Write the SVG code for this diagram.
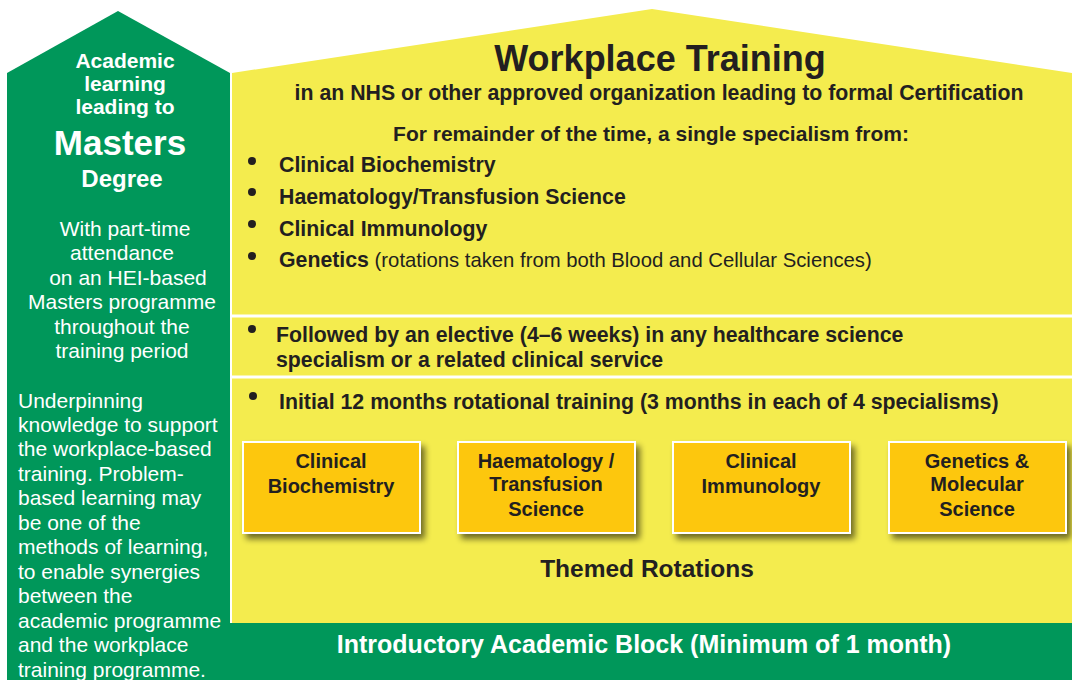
<svg xmlns="http://www.w3.org/2000/svg" width="1072" height="680" viewBox="0 0 1072 680">
<defs>
<style>
.w{fill:#ffffff;font-family:"Liberation Sans",Arial,sans-serif}
.d{fill:#231f20;font-family:"Liberation Sans",Arial,sans-serif}
.b{font-weight:bold}
.c{text-anchor:middle}
.box{fill:#fdc70e;stroke:#ffffff;stroke-width:2}
</style>
<filter id="sh" x="-10%" y="-10%" width="130%" height="140%">
<feGaussianBlur in="SourceAlpha" stdDeviation="3"/>
<feOffset dx="4" dy="5" result="o"/>
<feComponentTransfer><feFuncA type="linear" slope="0.55"/></feComponentTransfer>
<feMerge><feMergeNode/><feMergeNode in="SourceGraphic"/></feMerge>
</filter>
</defs>
<rect width="1072" height="680" fill="#ffffff"/>
<g id="academic">
<polygon points="7,73 118,11 230,73 230,680 7,680" fill="#00975a"/>
<g class="w b c" font-size="21">
<text x="125" y="68">Academic</text>
<text x="125" y="91">learning</text>
<text x="125" y="114">leading to</text>
</g>
<text class="w b c" x="120" y="155" font-size="35">Masters</text>
<text class="w b c" x="122" y="187" font-size="24">Degree</text>
<g class="w c" font-size="21">
<text x="125" y="236">With part-time</text>
<text x="122" y="260">attendance</text>
<text x="128" y="285">on an HEI-based</text>
<text x="122" y="309">Masters programme</text>
<text x="122" y="334">throughout the</text>
<text x="122" y="358">training period</text>
</g>
<g class="w" font-size="21">
<text x="18" y="408">Underpinning</text>
<text x="18" y="432">knowledge to support</text>
<text x="18" y="456">the workplace-based</text>
<text x="18" y="481">training. Problem-</text>
<text x="18" y="505">based learning may</text>
<text x="18" y="530">be one of the</text>
<text x="18" y="554">methods of learning,</text>
<text x="18" y="579">to enable synergies</text>
<text x="18" y="603">between the</text>
<text x="18" y="628">academic programme</text>
<text x="18" y="652">and the workplace</text>
<text x="18" y="677">training programme.</text>
</g>
</g>
<g id="workplace">
<polygon points="232,73 652,9 1072,73 1072,623 232,623" fill="#f4ec4e"/>
<line x1="232" y1="316" x2="1072" y2="316" stroke="#ffffff" stroke-width="3"/>
<line x1="232" y1="377" x2="1072" y2="377" stroke="#ffffff" stroke-width="3"/>
<text class="d b c" x="660" y="71" font-size="36">Workplace Training</text>
<text class="d b c" x="659" y="100" font-size="21.3">in an NHS or other approved organization leading to formal Certification</text>
<text class="d b c" x="651" y="141" font-size="21">For remainder of the time, a single specialism from:</text>
<g class="d" font-size="21.3">
<circle cx="252" cy="161" r="4" fill="#231f20"/>
<circle cx="252" cy="192" r="4" fill="#231f20"/>
<circle cx="252" cy="224" r="4" fill="#231f20"/>
<circle cx="252" cy="256" r="4" fill="#231f20"/>
<text class="b" x="279" y="172">Clinical Biochemistry</text>
<text class="b" x="279" y="204">Haematology/Transfusion Science</text>
<text class="b" x="279" y="236">Clinical Immunology</text>
<text x="279" y="267"><tspan class="b">Genetics</tspan><tspan font-size="20.3"> (rotations taken from both Blood and Cellular Sciences)</tspan></text>
<circle cx="252" cy="329" r="4" fill="#231f20"/>
<text class="b" x="276" y="342">Followed by an elective (4–6 weeks) in any healthcare science</text>
<text class="b" x="276" y="367">specialism or a related clinical service</text>
<circle cx="253" cy="396" r="4" fill="#231f20"/>
<text class="b" x="279" y="409">Initial 12 months rotational training (3 months in each of 4 specialisms)</text>
</g>
<text class="d b c" x="647" y="577" font-size="24.5">Themed Rotations</text>
</g>
<g id="rot1">
<rect class="box" x="243" y="442" width="177" height="91" filter="url(#sh)"/>
<text class="d b c" x="331" y="468" font-size="20">Clinical</text>
<text class="d b c" x="331" y="493" font-size="20">Biochemistry</text>
</g>
<g id="rot2">
<rect class="box" x="458" y="442" width="177" height="91" filter="url(#sh)"/>
<text class="d b c" x="546" y="468" font-size="20">Haematology /</text>
<text class="d b c" x="546" y="491" font-size="20">Transfusion</text>
<text class="d b c" x="546" y="516" font-size="20">Science</text>
</g>
<g id="rot3">
<rect class="box" x="673" y="442" width="177" height="91" filter="url(#sh)"/>
<text class="d b c" x="761" y="468" font-size="20">Clinical</text>
<text class="d b c" x="761" y="493" font-size="20">Immunology</text>
</g>
<g id="rot4">
<rect class="box" x="889" y="442" width="177" height="91" filter="url(#sh)"/>
<text class="d b c" x="977" y="468" font-size="20">Genetics &amp;</text>
<text class="d b c" x="977" y="491" font-size="20">Molecular</text>
<text class="d b c" x="977" y="516" font-size="20">Science</text>
</g>
<g id="intro">
<rect x="230" y="623" width="842" height="57" fill="#00975a"/>
<text class="w b c" x="644" y="653" font-size="25">Introductory Academic Block (Minimum of 1 month)</text>
</g>
<g id="connectors"/>
</svg>
